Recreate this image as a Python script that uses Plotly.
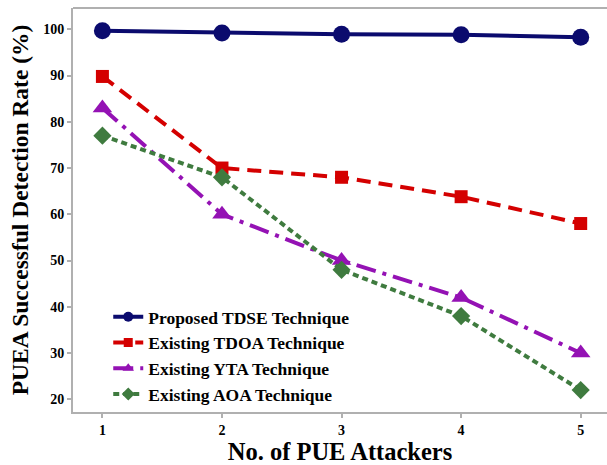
import plotly.graph_objects as go

# Number of PUE attackers
attackers = [1, 2, 3, 4, 5]

# Successful detection rate (%) per technique
tdse = [99.7, 99.2, 98.9, 98.8, 98.3]
tdoa = [89.8, 70.0, 68.0, 63.8, 58.0]
yta = [83.0, 60.0, 50.0, 42.0, 30.0]
aoa = [77.0, 68.0, 48.0, 38.0, 22.0]

y_ticks = [20, 30, 40, 50, 60, 70, 80, 90, 100]

FONT = "Liberation Serif"

series = [
    ("Proposed TDSE Technique", tdse, "#0b0b6e", "solid", "circle", 17, 10),
    ("Existing TDOA Technique", tdoa, "#d40000", "14px,8px", "square", 13, 9),
    ("Existing YTA Technique", yta, "#9412b4", "20px,7px,4px,7px", "triangle-up", 17, 10),
    ("Existing AOA Technique", aoa, "#3f7b3f", "6px,4px", "diamond", 14, 10),
]

fig = go.Figure()
for name, vals, color, dash, symbol, size, lsize in series:
    fig.add_trace(go.Scatter(
        x=attackers, y=vals, name=name, mode="lines+markers", showlegend=False,
        line=dict(color=color, width=4, dash=dash),
        marker=dict(symbol=symbol, size=size, color=color),
    ))
    # legend entry with a smaller marker
    fig.add_trace(go.Scatter(
        x=[None], y=[None], name=name, mode="lines+markers",
        line=dict(color=color, width=4, dash=dash),
        marker=dict(symbol=symbol, size=lsize, color=color),
    ))

axis_line = dict(showline=True, linecolor="#b0b0b0", linewidth=2, mirror=False,
                 showgrid=False, zeroline=False, ticks="outside", ticklen=4,
                 tickcolor="#b0b0b0", tickwidth=1.5, automargin=False)

fig.update_layout(
    width=607, height=465,
    margin=dict(l=73, r=0, t=8, b=53),
    plot_bgcolor="white", paper_bgcolor="white",
    font=dict(family=FONT, color="black"),
    xaxis=dict(range=[0.754, 5.22], tickvals=attackers,
               tickfont=dict(family=FONT, size=14, weight="bold"),
               title=dict(text="No. of PUE Attackers", standoff=13,
                          font=dict(family=FONT, size=24.5, weight="bold")),
               **axis_line),
    yaxis=dict(range=[17.25, 104.6], tickvals=y_ticks,
               tickfont=dict(family=FONT, size=14, weight="bold"),
               title=dict(text="PUEA Successful Detection Rate (%)", standoff=8,
                          font=dict(family=FONT, size=23.5, weight="bold")),
               **axis_line),
    legend=dict(x=0.066, y=0.28, xanchor="left", yanchor="top",
                bgcolor="rgba(0,0,0,0)", tracegroupgap=0,
                font=dict(family=FONT, size=17.5, weight="bold")),
    showlegend=True,
)

# Top frame line
fig.add_shape(type="line", xref="paper", yref="paper", x0=0, x1=1, y0=1, y1=1,
              line=dict(color="#b0b0b0", width=2))

fig.write_html("out.html")
